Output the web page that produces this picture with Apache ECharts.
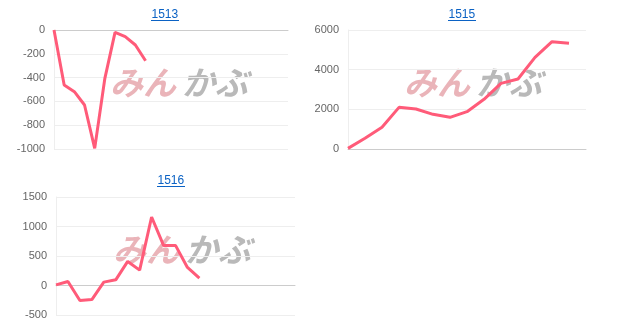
<!DOCTYPE html>
<html>
<head>
<meta charset="utf-8">
<script src="https://cdn.jsdelivr.net/npm/echarts@6/dist/echarts.min.js"></script>
<style>html,body{margin:0;padding:0;background:#fff}#c{width:618px;height:333px}</style>
</head>
<body>
<div id="c"></div>
<script>
const titles = ['1513', '1515', '1516'];
const cats1513 = Array.from({length: 24}, (_, i) => String(i + 1));
const cats1515 = Array.from({length: 15}, (_, i) => String(i + 1));
const cats1516 = Array.from({length: 21}, (_, i) => String(i + 1));
const vals1513 = [0, -462, -518, -630, -995, -406, -20, -56, -126, -258];
const vals1515 = [30, 538, 1092, 2100, 2017, 1748, 1597, 1882, 2504, 3311, 3529, 4622, 5412, 5328];
const vals1516 = [10, 68, -255, -238, 57, 96, 408, 260, 1161, 680, 680, 306, 125];
const yTicks = [
  {min: -1000, max: 0, interval: 200},
  {min: 0, max: 6000, interval: 2000},
  {min: -500, max: 1500, interval: 500}
];
const watermarkA = 'みん';
const watermarkB = 'かぶ';

const grids = [
  {left: 54, top: 30, width: 234, height: 119},
  {left: 348, top: 30, width: 238, height: 119},
  {left: 56, top: 197, width: 239, height: 118}
];
const titlePos = [{x: 165, y: 9}, {x: 462, y: 9}, {x: 171, y: 175}];
const wmPos = [{x: 110, y: 66}, {x: 404, y: 66}, {x: 113, y: 233}];
const cats = [cats1513, cats1515, cats1516];
const vals = [vals1513, vals1515, vals1516];
const color = '#ff5b79';

const chart = echarts.init(document.getElementById('c'), null, {renderer: 'canvas'});
const graphics = [];
titlePos.forEach((p, i) => {
  graphics.push({type: 'line', z: 10, shape: {x1: p.x - 14, y1: p.y + 11.5, x2: p.x + 14, y2: p.y + 11.5}, style: {stroke: '#0b62c4', lineWidth: 1}});
});
wmPos.forEach(p => {
  graphics.push({type: 'text', z: 0, x: p.x, y: p.y, style: {text: watermarkA, fill: '#eab4b9', font: 'italic bold 33px "Noto Sans CJK JP"'}});
  graphics.push({type: 'text', z: 0, x: p.x + 72, y: p.y, style: {text: watermarkB, fill: '#b9b9b9', font: 'italic bold 33px "Noto Sans CJK JP"'}});
});

const option = {
  animation: false,
  title: titles.map((t, i) => ({
    text: t, left: titlePos[i].x - 13.5, top: titlePos[i].y, padding: 0,
    textStyle: {color: '#0b62c4', fontSize: 12, fontWeight: 'normal', fontFamily: 'Liberation Sans'}
  })),
  grid: grids,
  xAxis: cats.map((c, i) => ({
    type: 'category', gridIndex: i, data: c, boundaryGap: false,
    axisLabel: {show: false}, axisTick: {show: false},
    axisLine: {lineStyle: {color: '#cccccc'}},
    splitLine: {show: false}
  })),
  yAxis: yTicks.map((t, i) => ({
    type: 'value', gridIndex: i, min: t.min, max: t.max, interval: t.interval,
    axisLine: {show: true, lineStyle: {color: '#eeeeee'}},
    axisTick: {show: false},
    axisLabel: {color: '#666', fontSize: 11, fontFamily: 'Liberation Sans', margin: 9, formatter: v => String(v)},
    splitLine: {lineStyle: {color: '#eeeeee'}}
  })),
  series: vals.map((v, i) => ({
    type: 'line', xAxisIndex: i, yAxisIndex: i, data: v, z: 5,
    symbol: 'none', lineStyle: {color: color, width: 3}, itemStyle: {color: color}
  })),
  graphic: graphics
};
chart.setOption(option);
</script>
</body>
</html>
